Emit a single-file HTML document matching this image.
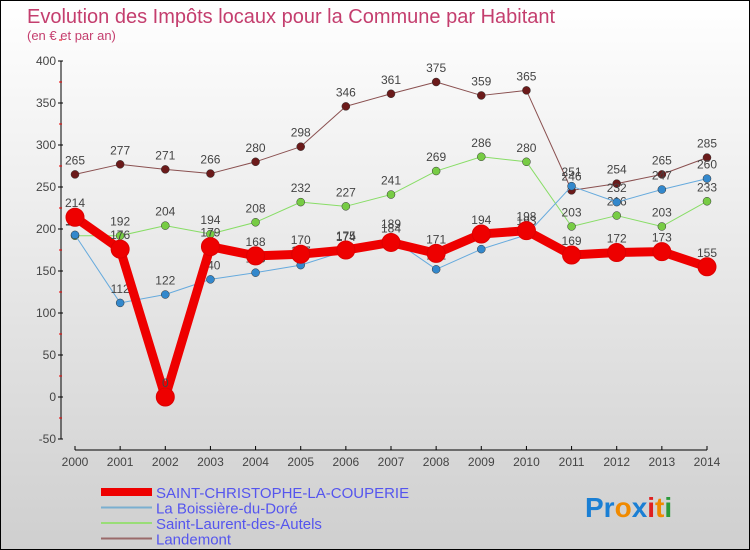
<!DOCTYPE html>
<html><head><meta charset="utf-8"><style>
body{margin:0}
#c{width:748px;height:548px;border:1px solid #000;background:linear-gradient(#ffffff,#cfcfcf);position:relative;overflow:hidden;font-family:"Liberation Sans",sans-serif}
</style></head><body>
<div id="c">
<svg id="s" width="748" height="548" xmlns="http://www.w3.org/2000/svg">
<text x="26" y="22" font-size="20" fill="#c43e6e">Evolution des Impôts locaux pour la Commune par Habitant</text>
<text x="26" y="39" font-size="13" fill="#c43e6e">(en € et par an)</text>
<g id="axes"></g><g id="series"></g><g id="legend"></g>
<text x="584" y="516" font-size="28" font-weight="bold"><tspan fill="#1a7fd4">Pr</tspan><tspan fill="#f08a00">o</tspan><tspan fill="#1a7fd4">x</tspan><tspan fill="#e02020">i</tspan><tspan fill="#f08a00">t</tspan><tspan fill="#2a9a3a">i</tspan></text>
</svg></div>
<script>
const years=[2000,2001,2002,2003,2004,2005,2006,2007,2008,2009,2010,2011,2012,2013,2014];
const yTicks=[-50,0,50,100,150,200,250,300,350,400];
const sName=["SAINT-CHRISTOPHE-LA-COUPERIE","La Boissière-du-Doré","Saint-Laurent-des-Autels","Landemont"];
const vSaint=[214,176,0,179,168,170,175,184,171,194,198,169,172,173,155];
const vBoiss=[193,112,122,140,148,157,174,189,152,176,193,251,232,247,260];
const vLaurent=[192,192,204,194,208,232,227,241,269,286,280,203,216,203,233];
const vLande=[265,277,271,266,280,298,346,361,375,359,365,246,254,265,285];
const NS="http://www.w3.org/2000/svg";
const xs=i=>74+i*(632/14);
const ys=v=>396-v*0.84;
function mk(p,t,a){const e=document.createElementNS(NS,t);for(const k in a)e.setAttribute(k,a[k]);p.appendChild(e);return e;}
const ax=document.getElementById('axes');
let l=mk(ax,'line',{x1:60,y1:60,x2:60,y2:438,stroke:'#000'});


yTicks.forEach(v=>{const y=ys(v);
 mk(ax,'line',{x1:57,y1:y,x2:62,y2:y,stroke:'#000'});
 mk(ax,'line',{x1:58,y1:ys(v+25),x2:61,y2:ys(v+25),stroke:'#e00'});
 const t=mk(ax,'text',{x:55,y:y+4,'font-size':12,'text-anchor':'end',fill:'#444'});t.textContent=v;
 
 });
l=mk(ax,'line',{x1:74,y1:449,x2:706,y2:449,stroke:'#000'});


years.forEach((yr,i)=>{const x=xs(i);
 mk(ax,'line',{x1:x,y1:445,x2:x,y2:449,stroke:'#000'});
 const t=mk(ax,'text',{x:x,y:465,'font-size':12,'text-anchor':'middle',fill:'#444'});t.textContent=yr;
 
 });
const ser=[[vLande,'#6b1a1a','#8a5050',1,4,'landemont'],[vLaurent,'#77cc44','#88dd66',1,4,'saint-laurent'],[vBoiss,'#3388cc','#66aadd',1,4,'boissiere'],[vSaint,'#ee0000','#ee0000',9,9,'saint-christophe']];
const sg=document.getElementById('series');
ser.forEach(([d,c,lc,w,r,n])=>{
 const g=mk(sg,'g',{});
 
 
 const p=mk(g,'polyline',{points:d.map((v,i)=>xs(i)+','+ys(v)).join(' '),fill:'none',stroke:lc,'stroke-width':w,'stroke-linejoin':'round'});
 
 
 d.forEach((v,i)=>{const cc=mk(g,'circle',{cx:xs(i),cy:ys(v),r:r,fill:c,stroke:w>1?'#dd0000':'#333','stroke-width':w>1?1:0.5});
  
  
  const t=mk(g,'text',{x:xs(i),y:ys(v)-10,'font-size':12,'text-anchor':'middle',fill:'#444'});t.textContent=v;
  
  });
});
const lg=document.getElementById('legend');
const lcol=['#ee0000','#7aafd0','#99dd77','#9a6a6a'],lw=[8,2,2,2];
sName.forEach((n,i)=>{const y=491+i*15.5;
 const ln=mk(lg,'line',{x1:100,y1:y,x2:151,y2:y,stroke:lcol[i],'stroke-width':lw[i]});
 
 
 const t=mk(lg,'text',{x:155,y:y+6,'font-size':15,fill:'#5555ee'});t.textContent=n;
 
 });
</script>
</body></html>
